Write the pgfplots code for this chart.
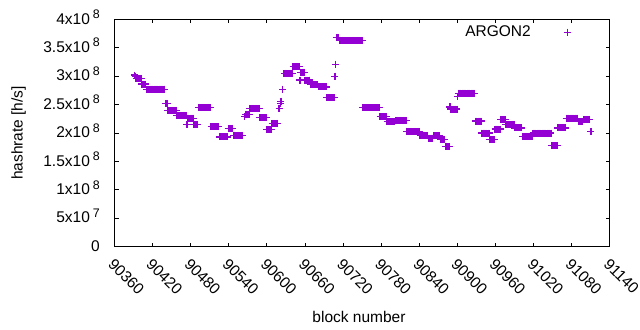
\documentclass[border=0pt]{standalone}
\usepackage{fontspec}
\setmainfont{Liberation Sans}
\usepackage{pgfplots}
\pgfplotsset{compat=1.18}
\definecolor{gpviolet}{RGB}{148,0,211}
\newcommand{\sx}[1]{\hspace{3bp}\raisebox{5.5bp}{\fontsize{12.4bp}{12bp}\selectfont #1}}
\begin{document}
\begin{tikzpicture}[font=\fontsize{15.5bp}{18bp}\selectfont]
\path[use as bounding box] (0,0) rectangle (640bp,330bp);
\begin{axis}[
  at={(114.5bp,83.3bp)}, anchor=south west,
  scale only axis, width=495.5bp, height=227.4bp,
  xmin=90360, xmax=91140, ymin=0, ymax=400,
  xtick={90360,90420,90480,90540,90600,90660,90720,90780,90840,90900,90960,91020,91080,91140},
  xticklabels={90360,90420,90480,90540,90600,90660,90720,90780,90840,90900,90960,91020,91080,91140},
  ytick={0,50,100,150,200,250,300,350,400},
  yticklabels={0,5x10\sx{7},1x10\sx{8},1.5x10\sx{8},2x10\sx{8},2.5x10\sx{8},3x10\sx{8},3.5x10\sx{8},4x10\sx{8}},
  scaled x ticks=false, scaled y ticks=false,
  xticklabel style={yshift=-10.5bp, xshift=0.5bp, rotate=-45, anchor=north west, inner sep=0pt},
  yticklabel style={anchor=base east, inner sep=0pt, xshift=-14.5bp, yshift=-4.7bp},
  axis line style={line width=1bp, black},
  every tick/.style={black, line width=1bp},
  major tick length=4bp, tick align=inside,
  xlabel={block number},
  xlabel style={at={(axis description cs:0.4934,-0.3325)}, anchor=base, inner sep=0pt},
  ylabel={hashrate [h/s]},
  ylabel style={at={(axis description cs:-0.1933,0.5)}, anchor=center, inner sep=0pt},
  legend plot pos=right,
  legend image code/.code={\draw[#1, mark options={line width=1bp}] plot coordinates {(0cm,0cm)};},
  legend style={draw=none, fill=none, at={(axis description cs:0.9213,0.944)}, anchor=east, inner sep=0pt, nodes={inner sep=0pt}, column sep=33bp},
]
\addplot[only marks, mark=+, color=gpviolet, mark size=3.5bp, mark options={line width=1.3bp}] coordinates {
(90391,302)(90393,300)
(90394,296)(90396,296)(90398,296)(90400,296)(90402,296)
(90403,286)(90405,286)(90407,286)(90409,286)
(90410,277)(90412,277)(90414,277)(90416,277)(90418,277)(90420,277)(90422,277)(90424,277)(90426,277)(90428,277)(90430,277)(90432,277)(90434,277)(90436,277)(90438,277)(90439,277)
(90440,252)(90442,252)(90443,252)
(90444,240)(90446,240)(90448,240)(90450,240)(90452,240)(90454,240)(90456,240)(90457,240)
(90458,231)(90460,231)(90462,231)(90464,231)(90466,231)(90468,231)(90470,231)(90472,231)(90473,231)
(90474,215)
(90475,226)(90477,226)(90479,226)(90481,226)(90483,226)(90484,226)
(90485,215)(90487,215)(90489,215)(90491,215)
(90492,245)(90494,245)(90496,245)(90498,245)(90500,245)(90502,245)(90504,245)(90506,245)(90508,245)(90510,245)(90511,245)
(90512,211)(90514,211)(90516,211)(90518,211)(90520,211)(90522,211)(90524,211)
(90525,193)(90527,193)(90529,193)(90531,193)(90533,193)(90535,193)(90537,193)(90538,193)
(90539,208)(90541,208)(90543,208)(90545,208)(90546,208)
(90547,196)(90549,196)(90551,196)(90553,196)(90555,196)(90557,196)(90559,196)(90561,196)(90562,196)
(90565,229)(90566,233)(90568,233)(90570,233)(90572,233)
(90573,243.5)(90575,243.5)(90577,243.5)(90579,243.5)(90581,243.5)(90583,243.5)(90585,243.5)(90587,243.5)(90588,243.5)
(90589,227)(90591,227)(90593,227)(90595,227)(90597,227)(90599,227)
(90600,206)(90602,206)(90604,206)(90606,206)(90607,206)
(90608,217)(90610,217)(90612,217)(90614,217)(90616,217)(90617,217)
(90619,243)(90621,252)(90622,256)(90625,277)
(90627,305)(90629,305)(90631,305)(90633,305)(90635,305)(90637,305)(90639,305)(90640,305)
(90641,316.5)(90643,316.5)(90645,316.5)(90647,316.5)(90649,316.5)(90651,316.5)
(90652,293)(90653,307)(90655,307)(90657,307)(90659,307)
(90660,293)(90662,293)(90664,293)(90666,293)(90667,293)
(90668,285)(90670,285)(90672,285)(90674,285)(90676,285)(90678,285)(90680,285)
(90681,281)(90683,281)(90685,281)(90687,281)(90689,281)(90691,281)(90693,281)
(90694,262)(90696,262)(90698,262)(90700,262)(90702,262)(90704,262)(90706,262)
(90707,300)(90708,321)
(90709,368)(90711,368)(90713,368)
(90714,363)(90716,363)(90718,363)(90720,363)(90722,363)(90724,363)(90726,363)(90728,363)(90730,363)(90732,363)(90734,363)(90736,363)(90738,363)(90740,363)(90742,363)(90744,363)(90746,363)(90748,363)(90750,363)
(90751,244.5)(90753,244.5)(90755,244.5)(90757,244.5)(90759,244.5)(90761,244.5)(90763,244.5)(90765,244.5)(90767,244.5)(90769,244.5)(90771,244.5)(90773,244.5)(90775,244.5)(90777,244.5)
(90778,228.5)(90780,228.5)(90782,228.5)(90784,228.5)(90786,228.5)(90788,228.5)
(90789,220)(90791,220)(90793,220)(90795,220)(90797,220)(90799,220)(90801,220)
(90802,222)(90804,222)(90806,222)(90808,222)(90810,222)(90812,222)(90814,222)(90816,222)(90818,222)(90819,222)
(90820,203)(90822,203)(90824,203)(90826,203)(90828,203)(90830,203)(90832,203)(90834,203)(90836,203)(90838,203)(90840,203)
(90841,196)(90843,196)(90845,196)(90847,196)(90849,196)(90851,196)(90853,196)
(90854,191)(90856,191)(90858,191)(90860,191)(90861,191)
(90862,195)(90864,195)(90866,195)(90868,195)(90870,195)(90872,195)
(90873,188)(90875,188)(90877,188)(90879,188)(90880,188)
(90881,176)(90883,176)(90885,176)(90887,176)
(90888,246)(90889,242)(90891,242)(90893,242)(90895,242)(90897,242)(90899,242)
(90900,264)(90901,270)(90903,270)(90905,270)(90907,270)(90909,270)(90911,270)(90913,270)(90915,270)(90917,270)(90919,270)(90921,270)(90923,270)(90925,270)(90927,270)
(90928,221)(90930,221)(90932,221)(90934,221)(90936,221)(90937,221)
(90938,200)(90940,200)(90942,200)(90944,200)(90946,200)(90948,200)(90950,200)
(90951,188)(90953,188)(90955,188)(90957,188)(90958,188)
(90959,207)(90961,207)(90963,207)(90965,207)(90967,207)
(90968,224)(90970,224)(90972,224)(90974,224)(90975,224)
(90976,215)(90978,215)(90980,215)(90982,215)(90984,215)(90986,215)(90988,215)(90989,215)
(90990,209)(90992,209)(90994,209)(90996,209)(90998,209)(91000,209)(91001,209)
(91002,194)(91004,194)(91006,194)(91008,194)(91010,194)(91012,194)(91014,194)(91016,194)(91018,194)
(91019,200)(91021,200)(91023,200)(91025,200)(91027,200)(91029,200)(91031,200)(91033,200)(91035,200)(91037,200)(91039,200)(91041,200)(91043,200)(91045,200)(91047,200)
(91048,177.5)(91050,177.5)(91052,177.5)(91054,177.5)(91056,177.5)(91057,177.5)
(91058,209)(91060,209)(91062,209)(91064,209)(91066,209)(91068,209)(91070,209)
(91071,226)(91073,226)(91075,226)(91077,226)(91079,226)(91081,226)(91083,226)(91085,226)(91087,226)(91089,226)
(91090,220)(91092,220)(91094,220)(91096,220)(91097,220)
(91098,224)(91100,224)(91102,224)(91104,224)(91106,224)(91108,224)
(91110,203)
};
\addlegendentry{ARGON2}
\end{axis}
\end{tikzpicture}
\end{document}
